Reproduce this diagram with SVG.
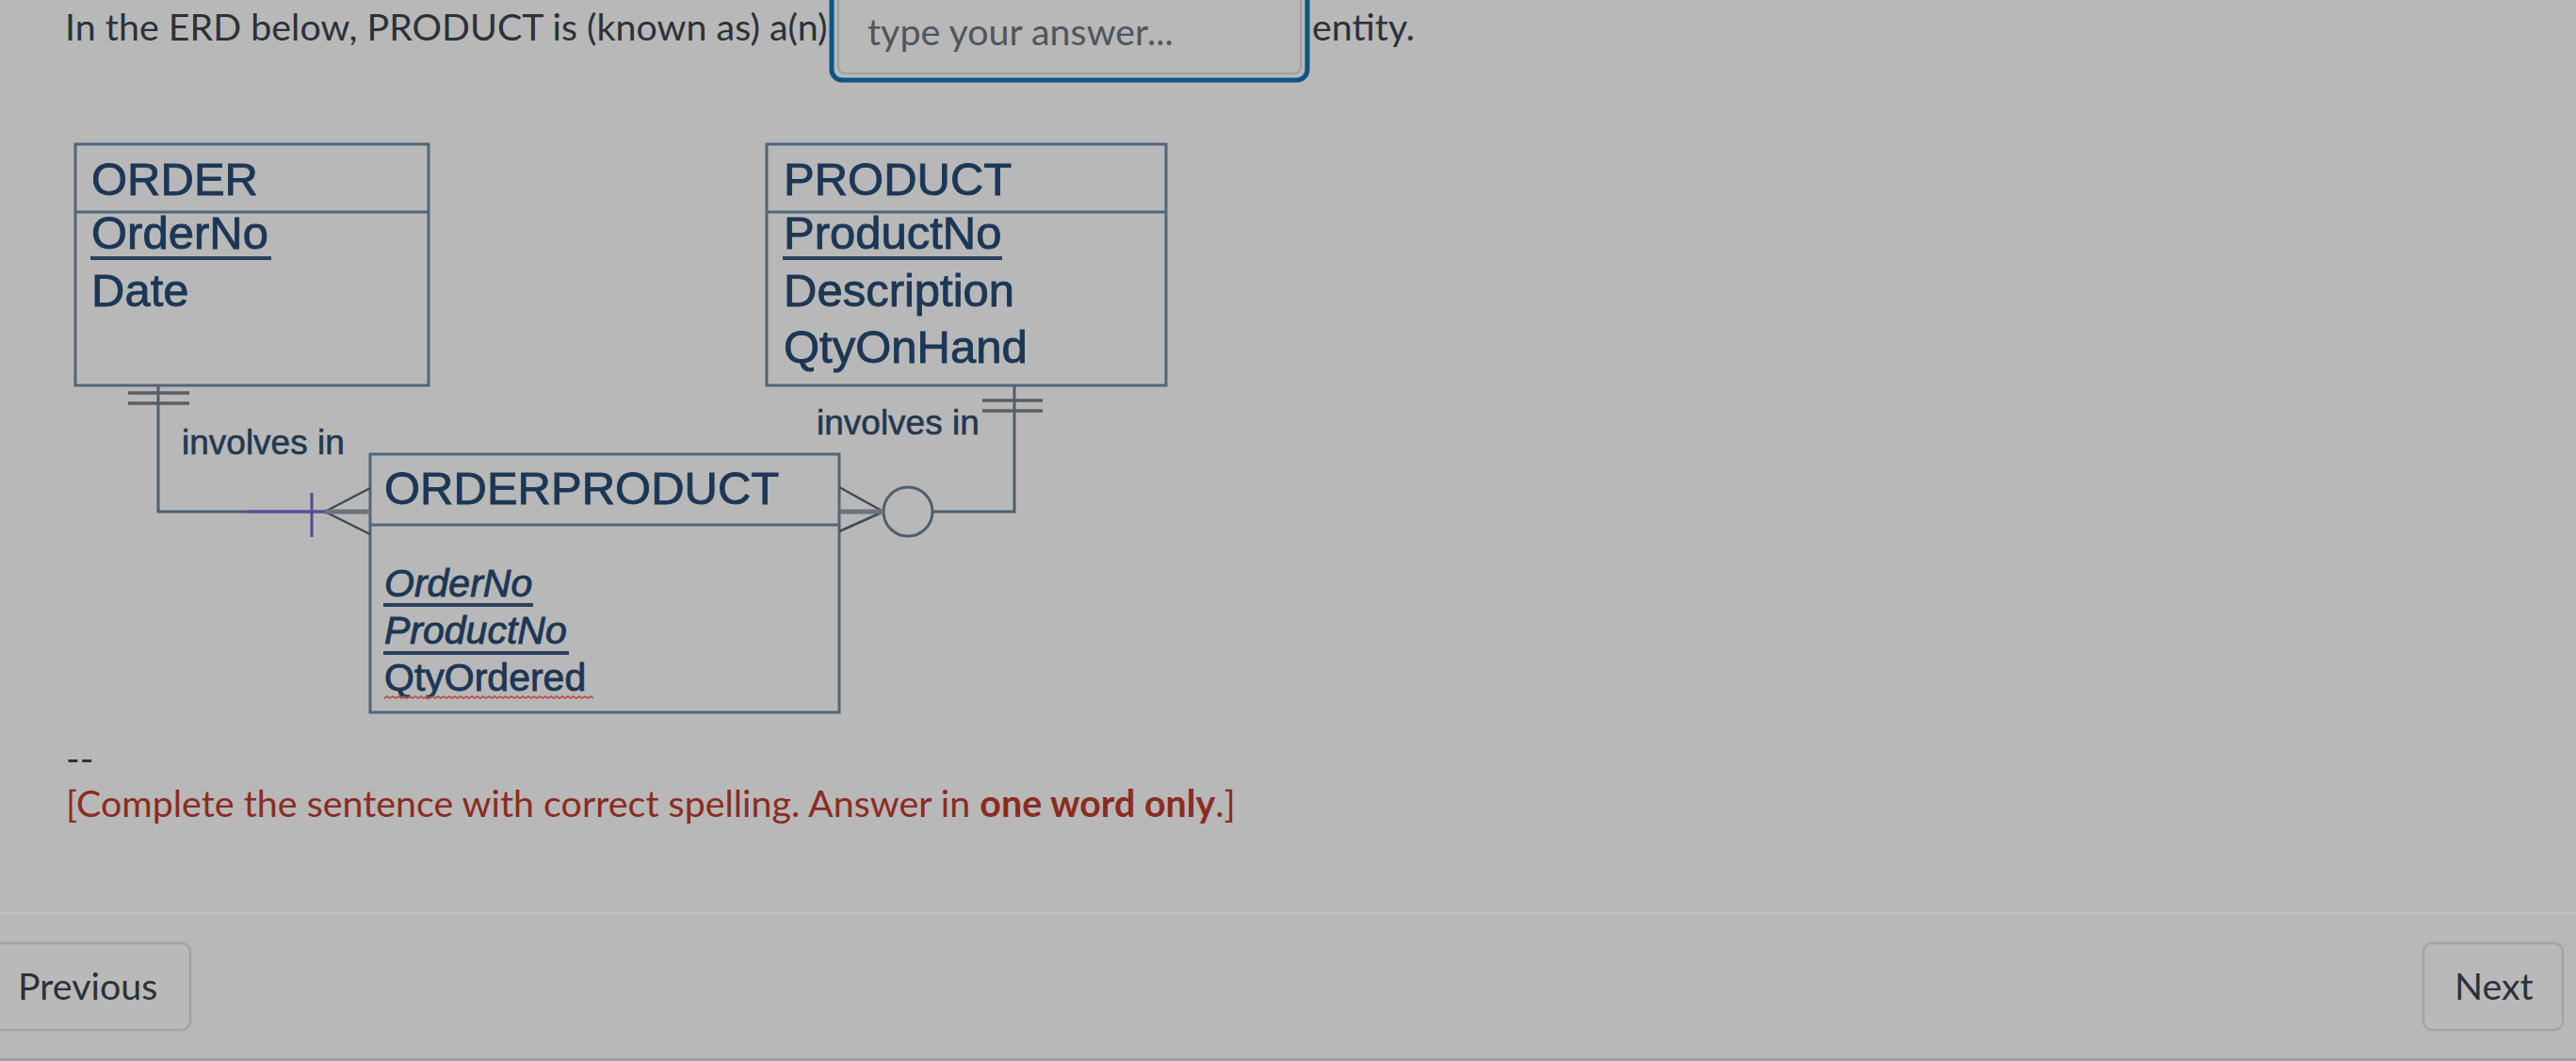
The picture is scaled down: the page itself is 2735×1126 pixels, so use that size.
<svg xmlns="http://www.w3.org/2000/svg" width="2735" height="1126" viewBox="0 0 2735 1126">
<style>
.page{font-family:Lato,"Noto Sans","Liberation Sans",sans-serif;font-size:39.4px;fill:#2b3238}
.red{font-family:Lato,"Noto Sans","Liberation Sans",sans-serif;font-size:39.4px;fill:#8c2b20}
.erd{font-family:"Liberation Sans",Arial,sans-serif;fill:#1c3756;stroke:#1c3756;stroke-width:0.9}
.big{font-size:49px}
.attr{font-size:41px;font-style:italic}
.rel{font-size:37px;fill:#23384f;stroke:#23384f;stroke-width:0.6}
.box{fill:none;stroke:#52657a;stroke-width:3}
.ln{fill:none;stroke:#4d5f70;stroke-width:3}
.ul{stroke:#2a4262;stroke-width:4}
.bar{stroke:#5b5e62;stroke-width:3.5}
.btn{fill:#b9b9b9;stroke:#a1a3a5;stroke-width:2.5}
</style>
<rect x="0" y="0" width="2735" height="1126" fill="#b8b8b8"/>

<g id="question">
<text class="page" x="69" y="43">In the ERD below, PRODUCT is (known as) a(n)</text>
<rect x="883" y="-12" width="505" height="97" rx="11" fill="#b8b8b8" stroke="#0b5585" stroke-width="5"/>
<rect x="890" y="-8" width="491" height="86" rx="7" fill="none" stroke="#9b9fa3" stroke-width="2"/>
<text class="page" x="921" y="48" style="fill:#4f565d">type your answer...</text>
<text class="page" x="1393" y="43">entity.</text>
</g>

<g id="order">
<rect class="box" x="80" y="153" width="375" height="256"/>
<line class="box" x1="80" y1="225" x2="455" y2="225"/>
<text class="erd big" x="97" y="207">ORDER</text>
<text class="erd big" x="97" y="264">OrderNo</text>
<line class="ul" x1="96" y1="274" x2="288" y2="274"/>
<text class="erd big" x="97" y="325">Date</text>
</g>

<g id="product">
<rect class="box" x="814" y="153" width="424" height="256"/>
<line class="box" x1="814" y1="225" x2="1238" y2="225"/>
<text class="erd big" x="832" y="207">PRODUCT</text>
<text class="erd big" x="832" y="264">ProductNo</text>
<line class="ul" x1="831" y1="274" x2="1064" y2="274"/>
<text class="erd big" x="832" y="325">Description</text>
<text class="erd big" x="832" y="385">QtyOnHand</text>
</g>

<g id="orderproduct">
<rect class="box" x="393" y="482" width="498" height="274"/>
<line class="box" x1="393" y1="557" x2="891" y2="557"/>
<text class="erd big" x="408" y="535">ORDERPRODUCT</text>
<text class="erd attr" x="408" y="633">OrderNo</text>
<line class="ul" x1="407" y1="642" x2="566" y2="642"/>
<text class="erd attr" x="408" y="683">ProductNo</text>
<line class="ul" x1="407" y1="693" x2="604" y2="693"/>
<text class="erd" x="408" y="733" style="font-size:41px">QtyOrdered</text>
<path d="M408 741 l3 -2 l3 2 l3 -2 l3 2 l3 -2 l3 2 l3 -2 l3 2 l3 -2 l3 2 l3 -2 l3 2 l3 -2 l3 2 l3 -2 l3 2 l3 -2 l3 2 l3 -2 l3 2 l3 -2 l3 2 l3 -2 l3 2 l3 -2 l3 2 l3 -2 l3 2 l3 -2 l3 2 l3 -2 l3 2 l3 -2 l3 2 l3 -2 l3 2 l3 -2 l3 2 l3 -2 l3 2 l3 -2 l3 2 l3 -2 l3 2 l3 -2 l3 2 l3 -2 l3 2 l3 -2 l3 2 l3 -2 l3 2 l3 -2 l3 2 l3 -2 l3 2 l3 -2 l3 2 l3 -2 l3 2 l3 -2 l3 2 l3 -2 l3 2 l3 -2 l3 2 l3 -2 l3 2 l3 -2 l3 2 l3 -2 l3 2 l3 -2 l3 2" fill="none" stroke="#b8504a" stroke-width="1.8"/>
</g>

<g id="connectors">
<polyline class="ln" points="168,409 168,543 262,543"/>
<line x1="262" y1="543" x2="345" y2="543" stroke="#55509a" stroke-width="3.5"/>
<line x1="331" y1="523" x2="331" y2="570" stroke="#4f4a9c" stroke-width="3"/>
<line class="bar" x1="136" y1="417" x2="201" y2="417"/>
<line class="bar" x1="136" y1="428" x2="201" y2="428"/>
<line x1="345" y1="543" x2="393" y2="518" stroke="#3f4a55" stroke-width="2.5"/>
<line x1="345" y1="543" x2="393" y2="567" stroke="#3f4a55" stroke-width="2.5"/>
<line x1="345" y1="543" x2="393" y2="543" stroke="#6a747c" stroke-width="5"/>
<text class="erd rel" x="193" y="482">involves in</text>
<polyline class="ln" points="1077,409 1077,543 990,543"/>
<line class="bar" x1="1043" y1="425" x2="1107" y2="425"/>
<line class="bar" x1="1043" y1="436" x2="1107" y2="436"/>
<circle cx="964" cy="543" r="26" fill="none" stroke="#4d5f70" stroke-width="3"/>
<line x1="938" y1="543" x2="891" y2="517" stroke="#3f4a55" stroke-width="2.5"/>
<line x1="938" y1="543" x2="891" y2="564" stroke="#3f4a55" stroke-width="2.5"/>
<line x1="938" y1="543" x2="891" y2="543" stroke="#6a747c" stroke-width="5"/>
<text class="erd rel" x="867" y="461">involves in</text>
</g>

<g id="instructions">
<text class="page" x="70" y="819">--</text>
<text class="red" x="70" y="867">[Complete the sentence with correct spelling. Answer in <tspan font-weight="bold">one word only</tspan>.]</text>
</g>

<line x1="0" y1="969" x2="2735" y2="969" stroke="#c2c2c2" stroke-width="2"/>

<g id="prev-button">
<rect class="btn" x="-10" y="1001" width="212" height="92" rx="9"/>
<text class="page" x="19" y="1061">Previous</text>
</g>
<g id="next-button">
<rect class="btn" x="2573" y="1001" width="148" height="92" rx="9"/>
<text class="page" x="2606" y="1061">Next</text>
</g>
<rect x="0" y="1123" width="2735" height="3" fill="#9ca0a3"/>
</svg>
